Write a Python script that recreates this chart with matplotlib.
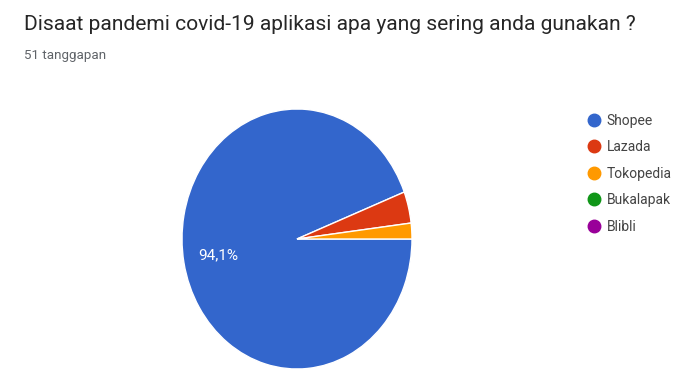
"""Pie chart of e-commerce apps used during the covid-19 pandemic (Google Forms style)."""

import matplotlib

matplotlib.use("Agg")
import matplotlib.pyplot as plt
from matplotlib.lines import Line2D

plt.rcParams["font.family"] = ["Roboto", "DejaVu Sans"]

TITLE = "Disaat pandemi covid-19 aplikasi apa yang sering anda gunakan ?"
SUBTITLE = "51 tanggapan"
apps = ["Shopee", "Lazada", "Tokopedia", "Bukalapak", "Blibli"]
counts = [48, 2, 1, 0, 0]
colors = ["#3366cc", "#dc3912", "#ff9900", "#109618", "#990099"]


def _pct_label(pct: float) -> str:
    if pct < 10:
        return ""
    return f"{pct:.1f}%".replace(".", ",")


def main() -> None:
    fig = plt.figure(figsize=(6.8, 3.89), dpi=100)
    fig.text(24 / 680, 1 - 24 / 389, TITLE, fontsize=15.1, color="#262626", va="center")
    fig.text(24 / 680, 1 - 56 / 389, SUBTITLE, fontsize=9.6, color="#5f6368", va="center")

    ax = fig.add_axes([182 / 680, 20 / 389, 230 / 680, 260 / 389])
    nonzero = [(a, c, col) for a, c, col in zip(apps, counts, colors) if c > 0]
    _, texts, autotexts = ax.pie(
        [c for _, c, _ in nonzero],
        colors=[col for _, _, col in nonzero],
        startangle=0,
        counterclock=False,
        autopct=_pct_label,
        pctdistance=0.7,
        wedgeprops={"edgecolor": "white", "linewidth": 1.0},
    )
    for t in autotexts:
        t.set_color("white")
        t.set_fontsize(11)
    ax.set_aspect("auto")
    ax.set_xlim(-1, 1)
    ax.set_ylim(-1, 1)

    handles = [
        Line2D([], [], marker="o", linestyle="", markersize=9,
               markerfacecolor=col, markeredgecolor=col)
        for col in colors
    ]
    leg = fig.legend(
        handles, apps, loc="upper left", bbox_to_anchor=(580 / 680, 1 - 108 / 389),
        frameon=False, fontsize=10, handletextpad=0.3, labelspacing=0.9,
        handlelength=1.2, borderaxespad=0,
    )
    for txt in leg.get_texts():
        txt.set_color("#444444")

    fig.savefig("out.png", dpi=100)
    plt.close(fig)


if __name__ == "__main__":
    main()
